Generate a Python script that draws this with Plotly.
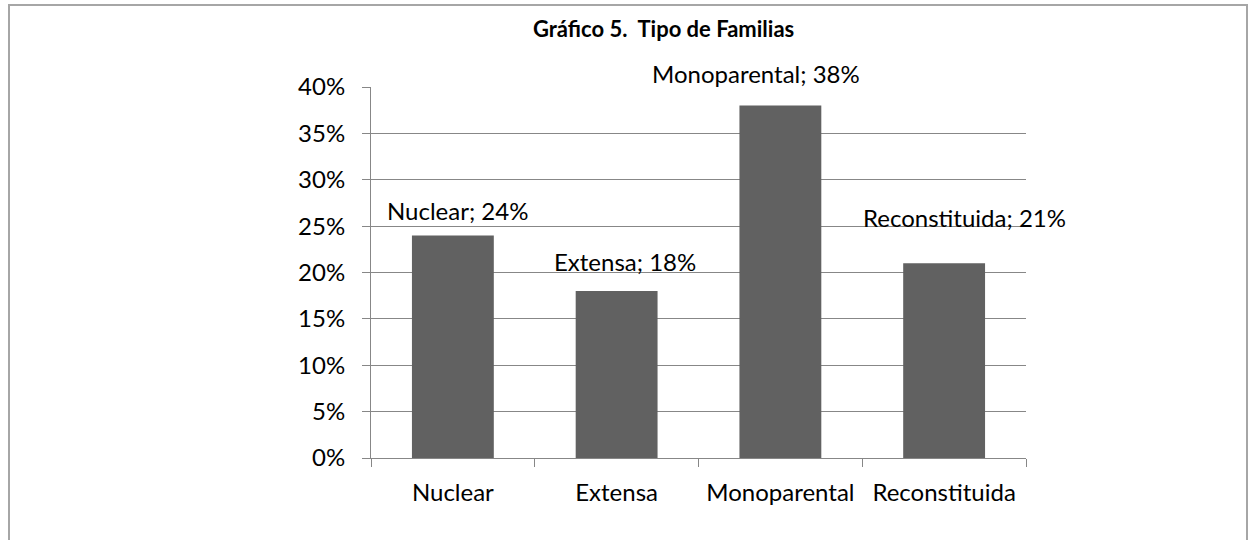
import plotly.graph_objects as go

CATEGORIES = ["Nuclear", "Extensa", "Monoparental", "Reconstituida"]
VALUES = [0.24, 0.18, 0.38, 0.21]
TICK_VALS = [0, 0.05, 0.10, 0.15, 0.20, 0.25, 0.30, 0.35, 0.40]

# label nudges (px) so labels sit roughly where the original put them
LABEL_XSHIFT = [5, 8, -24, 20]
LABEL_YSHIFT = [25, 30, 32, 46]

_BAR = "#616161"
_GRID = "#878787"
_FONT = "Lato, Liberation Sans, Arial, sans-serif"

fig = go.Figure()
fig.add_trace(
    go.Bar(
        x=CATEGORIES, y=VALUES,
        marker=dict(color=_BAR, line=dict(width=0)),
        hoverinfo="skip",
    )
)

for i, (cat, val) in enumerate(zip(CATEGORIES, VALUES)):
    fig.add_annotation(
        x=cat, y=val,
        text=f"{cat}; {val:.0%}",
        showarrow=False,
        xanchor="center", yanchor="middle",
        xshift=LABEL_XSHIFT[i], yshift=LABEL_YSHIFT[i],
        font=dict(size=24, color="black", family=_FONT),
    )

# outer frame around the whole chart
W, H = 1253, 540
L, R, T, B = 371, 227, 87, 82
pw, ph = W - L - R, H - T - B
fig.add_shape(
    type="rect", xref="paper", yref="paper",
    x0=(9 - L) / pw, x1=(1247 - L) / pw,
    y0=(H - B - 560) / ph, y1=(H - B - 5) / ph,
    line=dict(color="#a6a6a6", width=2),
    layer="below",
)

fig.add_annotation(
    text="<b>Gráfico 5.  Tipo de Familias</b>",
    xref="paper", yref="paper",
    x=(663 - L) / pw, y=(H - B - 29) / ph,
    showarrow=False, xanchor="center", yanchor="middle",
    font=dict(size=22, color="black", family=_FONT),
)

# category axis: range pinned so the annotations don't stretch it
fig.update_xaxes(
    type="category",
    range=[-0.5, len(CATEGORIES) - 0.5],
    tickson="boundaries",
    tickangle=0,
    ticks="outside", ticklen=8, tickcolor=_GRID,
    showline=True, linecolor=_GRID, linewidth=1,
    showgrid=False,
    tickfont=dict(size=24, color="black", family=_FONT),
    ticklabelstandoff=13,
)
fig.update_yaxes(
    range=[0, 0.40],
    tickmode="array", tickvals=TICK_VALS,
    tickformat=".0%",
    ticks="outside", ticklen=8, tickcolor=_GRID,
    showline=True, linecolor=_GRID, linewidth=1,
    showgrid=True, gridcolor=_GRID, gridwidth=1,
    zeroline=False,
    tickfont=dict(size=24, color="black", family=_FONT),
    ticklabelstandoff=12,
)

fig.update_layout(
    width=W, height=H,
    margin=dict(l=L, r=R, t=T, b=B, autoexpand=False),
    bargap=0.5,
    showlegend=False,
    plot_bgcolor="white",
    paper_bgcolor="white",
)

fig.write_html(
    "out.html",
    config={"displayModeBar": False},
    post_script="document.body.style.margin='0';",
)
